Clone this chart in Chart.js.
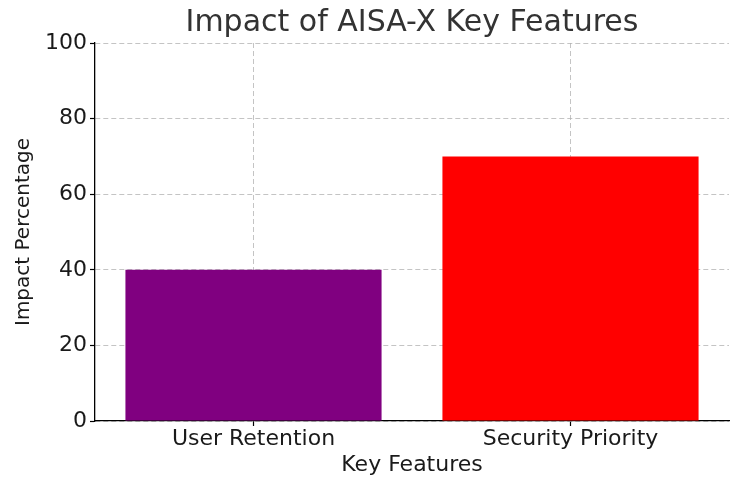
<!DOCTYPE html>
<html>
<head>
<meta charset="utf-8">
<title>Impact of AISA-X Key Features</title>
<script src="https://cdn.jsdelivr.net/npm/chart.js@4.4.1/dist/chart.umd.min.js"></script>
<style>
    html, body { margin: 0; padding: 0; background: #fff; }
    #wrap { width: 742px; height: 487px; }
</style>
</head>
<body>
<div id="wrap"><canvas id="chart" width="742" height="487"></canvas></div>
<script>
    const features = ['User Retention', 'Security Priority'];
    const impact = [40, 70];
    const barColors = ['#800080', '#ff0000'];
    const yTicks = [0, 20, 40, 60, 80, 100];

    const font = 'DejaVu Sans';
    const gridColor = 'rgba(176, 176, 176, 0.75)';

    const ctx = document.getElementById('chart');

    new Chart(ctx, {
        type: 'bar',
        data: {
            labels: features,
            datasets: [
                {
                    label: 'Impact Percentage',
                    data: impact,
                    backgroundColor: barColors,
                    borderWidth: 0,
                    categoryPercentage: 1,
                    barPercentage: 0.808,
                },
            ],
        },
        options: {
            responsive: false,
            animation: false,
            layout: { padding: { left: 0, right: 13, top: 0, bottom: 0 } },
            plugins: {
                legend: { display: false },
                tooltip: { enabled: false },
                title: {
                    display: true,
                    fullSize: false,
                    text: 'Impact of AISA-X Key Features',
                    color: '#333',
                    font: { family: font, size: 30, weight: 'normal' },
                    padding: { top: 5, bottom: 2 },
                },
            },
            scales: {
                x: {
                    z: 1,
                    offset: true,
                    grid: {
                        offset: false,
                        color: gridColor,
                        tickLength: 5,
                        tickColor: '#000',
                        tickWidth: 1.2,
                        tickBorderDash: [],
                    },
                    border: { color: '#000', width: 1.3, dash: [5, 3] },
                    ticks: {
                        color: '#1a1a1a',
                        padding: 0,
                        font: { family: font, size: 22 },
                        maxRotation: 0,
                    },
                    title: {
                        display: true,
                        text: 'Key Features',
                        color: '#1a1a1a',
                        font: { family: font, size: 22 },
                        padding: { top: 0, bottom: 9 },
                    },
                    afterFit: (scale) => { scale.height = 66; },
                },
                y: {
                    z: 1,
                    min: 0,
                    max: 100,
                    afterBuildTicks: (scale) => { scale.ticks = yTicks.map(v => ({ value: v })); },
                    grid: {
                        color: gridColor,
                        tickLength: 5,
                        tickColor: '#000',
                        tickWidth: 1.2,
                        tickBorderDash: [],
                    },
                    border: { color: '#000', width: 1.3, dash: [5, 3] },
                    ticks: {
                        color: '#1a1a1a',
                        padding: 3,
                        font: { family: font, size: 22 },
                    },
                    title: {
                        display: true,
                        text: 'Impact Percentage',
                        color: '#1a1a1a',
                        font: { family: font, size: 20 },
                        padding: { top: 12, bottom: 0 },
                    },
                    afterFit: (scale) => { scale.width = 95; },
                },
            },
        },
    });
</script>
</body>
</html>
